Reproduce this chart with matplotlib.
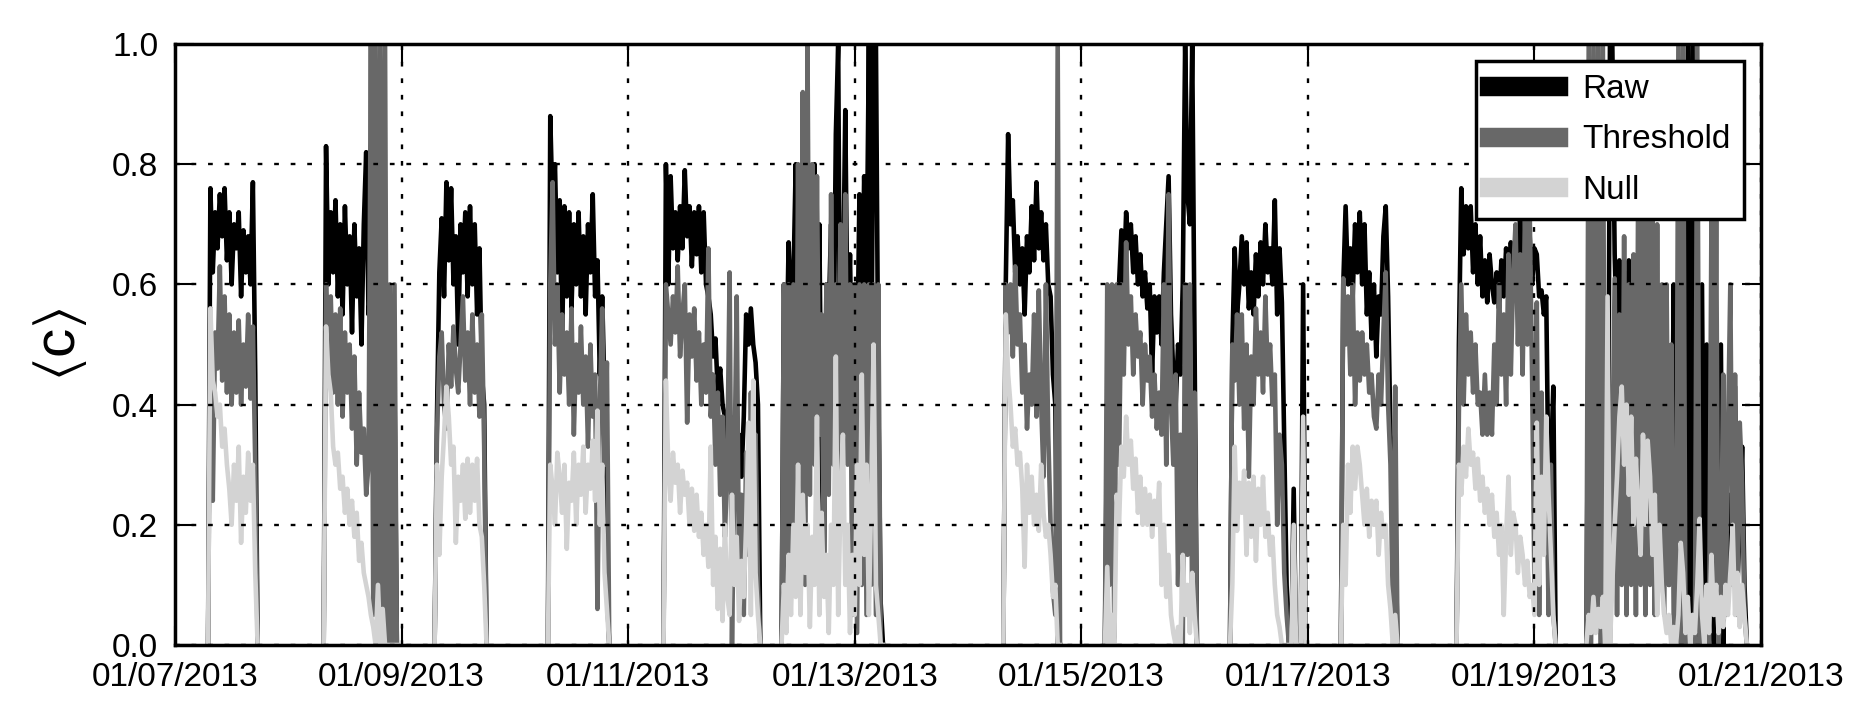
import numpy as np
import matplotlib
matplotlib.use('Agg')
import matplotlib.pyplot as plt
import matplotlib.dates as mdates
from datetime import datetime

plt.rcParams['font.family'] = ['Liberation Sans', 'DejaVu Sans']
plt.rcParams['mathtext.default'] = 'regular'

# samples every 30 min; each burst starts at (day offset from 01/07, hour)
step_h = 0.5

start_jan07 = (0, 7.0)
raw_jan07 = [0.00, 0.76, 0.62, 0.72, 0.66, 0.75, 0.68, 0.76, 0.64, 0.72, 0.60, 0.70, 0.66, 0.72, 0.58, 0.69, 0.62, 0.68, 0.60, 0.77, 0.45, 0.00]
thr_jan07 = [0.00, 0.56, 0.24, 0.52, 0.46, 0.63, 0.44, 0.58, 0.42, 0.55, 0.40, 0.52, 0.42, 0.54, 0.40, 0.50, 0.43, 0.55, 0.41, 0.53, 0.30, 0.00]
null_jan07 = [0.00, 0.56, 0.44, 0.42, 0.38, 0.40, 0.33, 0.36, 0.30, 0.26, 0.20, 0.30, 0.24, 0.33, 0.17, 0.28, 0.22, 0.32, 0.24, 0.30, 0.12, 0.00]

start_jan08 = (1, 7.5)
raw_jan08 = [0.00, 0.83, 0.60, 0.72, 0.62, 0.74, 0.58, 0.70, 0.55, 0.73, 0.60, 0.68, 0.52, 0.70, 0.58, 0.66, 0.50, 0.70, 0.82, 0.55, 0.60, 0.50, 0.60, 0.45, 0.55, 0.40, 0.50, 0.45, 0.43, 0.40, 0.43, 0.00]
thr_jan08 = [0.00, 0.60, 0.45, 0.58, 0.42, 0.55, 0.40, 0.56, 0.38, 0.52, 0.42, 0.50, 0.36, 0.48, 0.30, 0.42, 0.32, 0.36, 0.25, 0.30, 1.00, 0.05, 1.00, 0.03, 1.00, 0.02, 1.00, 0.00, 0.60, 0.00, 0.60, 0.00]
null_jan08 = [0.00, 0.53, 0.45, 0.42, 0.33, 0.30, 0.32, 0.26, 0.28, 0.22, 0.26, 0.20, 0.24, 0.18, 0.22, 0.14, 0.17, 0.12, 0.10, 0.08, 0.05, 0.03, 0.00, 0.10, 0.00, 0.06, 0.00, 0.00, 0.00, 0.00, 0.00, 0.00]

start_jan09 = (2, 7.0)
raw_jan09 = [0.00, 0.38, 0.62, 0.71, 0.58, 0.77, 0.64, 0.76, 0.60, 0.68, 0.50, 0.70, 0.62, 0.72, 0.58, 0.73, 0.60, 0.70, 0.55, 0.66, 0.45, 0.40, 0.00]
thr_jan09 = [0.00, 0.35, 0.48, 0.52, 0.40, 0.36, 0.50, 0.43, 0.53, 0.46, 0.42, 0.50, 0.58, 0.44, 0.52, 0.40, 0.55, 0.42, 0.50, 0.38, 0.55, 0.33, 0.00]
null_jan09 = [0.00, 0.30, 0.15, 0.28, 0.35, 0.43, 0.38, 0.30, 0.33, 0.17, 0.28, 0.24, 0.30, 0.21, 0.31, 0.22, 0.30, 0.24, 0.31, 0.20, 0.18, 0.10, 0.00]

start_jan10 = (3, 7.0)
raw_jan10 = [0.00, 0.88, 0.72, 0.80, 0.62, 0.74, 0.50, 0.73, 0.58, 0.72, 0.56, 0.70, 0.60, 0.72, 0.58, 0.68, 0.55, 0.70, 0.62, 0.75, 0.58, 0.64, 0.45, 0.58, 0.42, 0.09, 0.00]
thr_jan10 = [0.00, 0.60, 0.77, 0.50, 0.60, 0.42, 0.55, 0.45, 0.52, 0.40, 0.56, 0.35, 0.50, 0.42, 0.53, 0.40, 0.48, 0.33, 0.50, 0.38, 0.45, 0.06, 0.40, 0.56, 0.30, 0.47, 0.00]
null_jan10 = [0.00, 0.30, 0.26, 0.20, 0.32, 0.28, 0.22, 0.30, 0.16, 0.27, 0.24, 0.32, 0.20, 0.30, 0.25, 0.33, 0.22, 0.30, 0.26, 0.34, 0.24, 0.39, 0.20, 0.30, 0.12, 0.06, 0.00]

start_jan11 = (4, 7.5)
raw_jan11 = [0.00, 0.80, 0.60, 0.78, 0.66, 0.72, 0.64, 0.73, 0.66, 0.79, 0.68, 0.73, 0.63, 0.72, 0.65, 0.73, 0.62, 0.72, 0.60, 0.58, 0.55, 0.48, 0.51, 0.42, 0.46, 0.40, 0.38, 0.30, 0.35, 0.28, 0.38, 0.30, 0.35, 0.28, 0.38, 0.55, 0.50, 0.56, 0.50, 0.47, 0.40, 0.00]
thr_jan11 = [0.00, 0.60, 0.55, 0.50, 0.58, 0.52, 0.63, 0.48, 0.55, 0.60, 0.37, 0.55, 0.48, 0.56, 0.44, 0.52, 0.40, 0.50, 0.42, 0.66, 0.38, 0.45, 0.30, 0.42, 0.25, 0.38, 0.18, 0.30, 0.62, 0.00, 0.28, 0.58, 0.10, 0.25, 0.05, 0.32, 0.15, 0.42, 0.20, 0.35, 0.10, 0.00]
null_jan11 = [0.00, 0.44, 0.30, 0.24, 0.32, 0.27, 0.30, 0.22, 0.29, 0.25, 0.27, 0.20, 0.26, 0.19, 0.25, 0.18, 0.22, 0.15, 0.20, 0.13, 0.33, 0.10, 0.18, 0.06, 0.16, 0.04, 0.20, 0.08, 0.05, 0.25, 0.10, 0.18, 0.04, 0.14, 0.08, 0.20, 0.37, 0.05, 0.44, 0.12, 0.05, 0.00]

start_jan12 = (5, 8.5)
raw_jan12 = [0.00, 0.60, 0.45, 0.67, 0.55, 0.60, 0.80, 0.55, 0.75, 0.62, 0.78, 0.60, 0.70, 0.55, 0.80, 0.45, 0.70, 0.30, 0.13, 0.60, 0.55, 0.70, 0.45, 0.85, 1.00, 0.30, 0.57, 0.89, 0.50, 0.65, 0.40, 0.60, 0.45, 0.75, 0.50, 0.78, 0.60, 1.00, 0.40, 1.00, 1.00, 0.42, 0.07, 0.00]
thr_jan12 = [0.00, 0.60, 0.05, 0.60, 0.10, 0.60, 0.15, 0.80, 0.20, 0.92, 0.10, 1.00, 0.25, 0.80, 0.30, 0.78, 0.35, 0.55, 0.10, 0.60, 0.25, 0.75, 0.30, 0.60, 0.20, 0.70, 0.35, 0.75, 0.30, 0.60, 0.05, 0.60, 0.02, 0.60, 0.10, 0.60, 0.05, 0.60, 0.10, 0.60, 0.05, 0.60, 0.00, 0.00]
null_jan12 = [0.00, 0.10, 0.02, 0.15, 0.05, 0.20, 0.08, 0.30, 0.05, 0.25, 0.12, 0.20, 0.03, 0.18, 0.10, 0.38, 0.05, 0.22, 0.08, 0.15, 0.02, 0.20, 0.10, 0.48, 0.05, 0.25, 0.35, 0.10, 0.20, 0.02, 0.15, 0.05, 0.30, 0.10, 0.45, 0.15, 0.30, 0.05, 0.25, 0.50, 0.10, 0.05, 0.00, 0.00]

start_jan14 = (7, 7.5)
raw_jan14 = [0.00, 0.60, 0.85, 0.70, 0.74, 0.62, 0.68, 0.60, 0.66, 0.55, 0.68, 0.62, 0.73, 0.64, 0.77, 0.66, 0.72, 0.64, 0.70, 0.60, 0.58, 0.45, 0.40, 0.00, 0.00]
thr_jan14 = [0.00, 0.60, 0.52, 0.60, 0.48, 0.63, 0.50, 0.55, 0.42, 0.50, 0.36, 0.45, 0.40, 0.55, 0.38, 0.59, 0.40, 0.28, 0.60, 0.35, 0.20, 0.09, 0.05, 1.00, 0.00]
null_jan14 = [0.00, 0.55, 0.45, 0.40, 0.33, 0.36, 0.30, 0.32, 0.26, 0.13, 0.30, 0.22, 0.28, 0.20, 0.25, 0.19, 0.30, 0.22, 0.18, 0.20, 0.15, 0.08, 0.10, 0.00, 0.00]

start_jan15 = (8, 5.0)
raw_jan15 = [0.00, 0.40, 0.50, 0.45, 0.55, 0.50, 0.60, 0.69, 0.60, 0.72, 0.66, 0.70, 0.62, 0.68, 0.60, 0.65, 0.58, 0.62, 0.56, 0.60, 0.45, 0.58, 0.52, 0.58, 0.50, 0.62, 0.70, 0.78, 0.55, 0.45, 0.40, 0.50, 0.45, 0.60, 1.00, 0.75, 0.70, 1.00, 0.51, 0.00]
thr_jan15 = [0.00, 0.60, 0.10, 0.60, 0.00, 0.60, 0.30, 0.60, 0.45, 0.67, 0.50, 0.58, 0.45, 0.55, 0.48, 0.52, 0.40, 0.50, 0.44, 0.48, 0.38, 0.45, 0.36, 0.42, 0.35, 0.60, 0.30, 0.75, 0.40, 0.30, 0.45, 0.10, 0.35, 0.00, 0.60, 0.15, 0.60, 0.05, 0.42, 0.00]
null_jan15 = [0.00, 0.13, 0.00, 0.05, 0.00, 0.25, 0.20, 0.33, 0.28, 0.38, 0.30, 0.34, 0.26, 0.31, 0.22, 0.28, 0.20, 0.26, 0.20, 0.25, 0.18, 0.24, 0.20, 0.27, 0.10, 0.20, 0.08, 0.15, 0.05, 0.02, 0.00, 0.03, 0.00, 0.15, 0.05, 0.10, 0.02, 0.12, 0.05, 0.00]

start_jan16 = (9, 7.5)
raw_jan16 = [0.00, 0.50, 0.66, 0.55, 0.60, 0.68, 0.60, 0.67, 0.56, 0.62, 0.55, 0.65, 0.58, 0.67, 0.60, 0.70, 0.62, 0.66, 0.60, 0.74, 0.55, 0.66, 0.57, 0.33, 0.10, 0.00, 0.00, 0.26, 0.00, 0.00, 0.00, 0.60, 0.00]
thr_jan16 = [0.00, 0.50, 0.44, 0.55, 0.40, 0.55, 0.36, 0.50, 0.28, 0.48, 0.40, 0.56, 0.45, 0.52, 0.42, 0.58, 0.45, 0.50, 0.40, 0.45, 0.20, 0.35, 0.30, 0.12, 0.05, 0.00, 0.00, 0.00, 0.00, 0.00, 0.00, 0.00, 0.00]
null_jan16 = [0.00, 0.10, 0.33, 0.19, 0.27, 0.22, 0.29, 0.15, 0.27, 0.18, 0.28, 0.14, 0.26, 0.20, 0.28, 0.18, 0.22, 0.15, 0.18, 0.10, 0.05, 0.03, 0.00, 0.00, 0.00, 0.00, 0.00, 0.20, 0.00, 0.00, 0.00, 0.38, 0.00]

start_jan17 = (10, 7.0)
raw_jan17 = [0.00, 0.60, 0.73, 0.60, 0.66, 0.58, 0.70, 0.62, 0.72, 0.60, 0.70, 0.55, 0.62, 0.51, 0.60, 0.48, 0.58, 0.55, 0.68, 0.73, 0.58, 0.35, 0.30, 0.20, 0.00]
thr_jan17 = [0.00, 0.61, 0.50, 0.58, 0.45, 0.60, 0.40, 0.52, 0.44, 0.52, 0.45, 0.50, 0.42, 0.45, 0.38, 0.36, 0.45, 0.40, 0.52, 0.62, 0.40, 0.30, 0.05, 0.43, 0.00]
null_jan17 = [0.00, 0.20, 0.10, 0.30, 0.22, 0.33, 0.26, 0.33, 0.30, 0.25, 0.20, 0.26, 0.18, 0.24, 0.20, 0.24, 0.15, 0.22, 0.18, 0.20, 0.10, 0.06, 0.00, 0.05, 0.00]

start_jan18 = (11, 7.5)
raw_jan18 = [0.00, 0.50, 0.76, 0.65, 0.73, 0.66, 0.73, 0.62, 0.70, 0.60, 0.68, 0.58, 0.64, 0.57, 0.65, 0.60, 0.57, 0.62, 0.56, 0.64, 0.58, 0.66, 0.60, 0.67, 0.62, 0.67, 0.64, 0.72, 0.65, 0.70, 0.66, 0.68, 0.60, 0.66, 0.65, 0.58, 0.59, 0.55, 0.58, 0.25, 0.30, 0.43, 0.00]
thr_jan18 = [0.00, 0.39, 0.60, 0.40, 0.55, 0.45, 0.52, 0.42, 0.50, 0.40, 0.42, 0.35, 0.45, 0.35, 0.42, 0.35, 0.50, 0.40, 0.60, 0.45, 0.55, 0.40, 0.65, 0.45, 0.62, 0.70, 0.50, 0.65, 0.45, 0.72, 0.50, 0.72, 0.45, 0.10, 0.57, 0.05, 0.42, 0.20, 0.34, 0.05, 0.30, 0.05, 0.00]
null_jan18 = [0.00, 0.30, 0.25, 0.33, 0.28, 0.36, 0.30, 0.32, 0.26, 0.31, 0.24, 0.28, 0.22, 0.26, 0.20, 0.25, 0.18, 0.22, 0.15, 0.20, 0.05, 0.18, 0.28, 0.15, 0.22, 0.20, 0.12, 0.18, 0.15, 0.10, 0.14, 0.08, 0.10, 0.05, 0.37, 0.10, 0.28, 0.15, 0.38, 0.25, 0.15, 0.05, 0.00]

start_jan19 = (12, 11.0)
raw_jan19 = [0.00, 0.60, 0.40, 0.60, 0.50, 0.60, 0.40, 0.55, 0.00, 0.00,
             1.00, 1.00, 0.65, 0.50, 0.64, 0.55, 0.62, 0.43, 0.64, 0.45,
             0.50, 0.35, 0.40, 0.30, 0.35, 0.30, 0.35, 0.25, 0.30, 0.20,
             0.30, 0.20, 0.25, 0.15, 0.20, 0.10, 0.15, 0.60, 0.00, 0.60,
             0.00, 0.60, 0.00, 1.00, 0.00, 1.00, 0.00, 0.60, 0.00, 0.60,
             0.00, 0.50, 0.00, 0.50, 0.00, 0.50, 0.00, 0.50, 0.00, 0.20,
             0.10, 0.25, 0.10, 0.43, 0.10, 0.20, 0.33, 0.10, 0.00]
thr_jan19 = [0.00, 1.00, 0.00, 1.00, 0.05, 1.00, 0.00, 1.00, 0.00, 0.00,
             0.00, 0.30, 0.61, 0.05, 0.55, 0.10, 0.68, 0.05, 0.60, 0.10,
             0.65, 0.05, 0.80, 0.10, 0.72, 0.05, 0.85, 0.10, 0.78, 0.05,
             0.70, 0.10, 0.60, 0.05, 0.60, 0.10, 0.50, 0.05, 0.00, 1.00,
             0.00, 1.00, 0.00, 0.05, 0.00, 0.05, 0.00, 1.00, 0.00, 0.05,
             0.00, 0.05, 0.00, 0.71, 0.05, 0.71, 0.00, 0.10, 0.45, 0.05,
             0.35, 0.60, 0.10, 0.45, 0.05, 0.37, 0.27, 0.05, 0.00]
null_jan19 = [0.00, 0.05, 0.02, 0.08, 0.02, 0.06, 0.03, 0.08, 0.00, 0.58,
              0.00, 0.10, 0.20, 0.28, 0.38, 0.43, 0.30, 0.40, 0.25, 0.38,
              0.20, 0.31, 0.22, 0.15, 0.35, 0.20, 0.34, 0.28, 0.15, 0.25,
              0.05, 0.20, 0.10, 0.05, 0.02, 0.05, 0.00, 0.03, 0.00, 0.05,
              0.17, 0.12, 0.02, 0.08, 0.00, 0.05, 0.02, 0.10, 0.21, 0.05,
              0.00, 0.10, 0.02, 0.15, 0.05, 0.10, 0.02, 0.08, 0.03, 0.10,
              0.05, 0.12, 0.20, 0.05, 0.12, 0.03, 0.10, 0.05, 0.00]

starts = [start_jan07, start_jan08, start_jan09, start_jan10, start_jan11, start_jan12,
          start_jan14, start_jan15, start_jan16, start_jan17, start_jan18, start_jan19]
raw_days = [raw_jan07, raw_jan08, raw_jan09, raw_jan10, raw_jan11, raw_jan12,
            raw_jan14, raw_jan15, raw_jan16, raw_jan17, raw_jan18, raw_jan19]
thr_days = [thr_jan07, thr_jan08, thr_jan09, thr_jan10, thr_jan11, thr_jan12,
            thr_jan14, thr_jan15, thr_jan16, thr_jan17, thr_jan18, thr_jan19]
null_days = [null_jan07, null_jan08, null_jan09, null_jan10, null_jan11, null_jan12,
             null_jan14, null_jan15, null_jan16, null_jan17, null_jan18, null_jan19]

t0 = mdates.date2num(datetime(2013, 1, 7))


def join_bursts(days):
    xs, ys = [], []
    for (day, h0), vals in zip(starts, days):
        t = t0 + day + (h0 + step_h * np.arange(len(vals))) / 24.0
        xs.extend(t)
        ys.extend(vals)
        xs.append(np.nan)
        ys.append(np.nan)
    return np.array(xs), np.array(ys)


fig = plt.figure(figsize=(18.73, 7.23), dpi=100)
ax = fig.add_axes([175 / 1873, 1 - 645 / 723, 1586 / 1873, 601 / 723])

for days, col, lab in [(raw_days, 'black', 'Raw'),
                       (thr_days, '#686868', 'Threshold'),
                       (null_days, '#d3d3d3', 'Null')]:
    x, y = join_bursts(days)
    ax.plot(x, y, color=col, linewidth=3.3, label=lab)

ax.set_xlim(t0, t0 + 14)
ax.set_ylim(0, 1)
ax.set_xticks([t0 + 2 * i for i in range(8)])
ax.xaxis.set_major_formatter(mdates.DateFormatter('%m/%d/%Y'))
ax.set_yticks(np.linspace(0, 1, 6))
ax.yaxis.set_major_formatter(plt.FormatStrFormatter('%.1f'))

ax.set_axisbelow(False)
ax.grid(True, color='k', linestyle=(0, (2, 5)), linewidth=1.7)
ax.tick_params(direction='in', length=14, width=1.5, top=True, right=True,
               labelsize=24)
ax.tick_params(axis='x', pad=12)
ax.tick_params(axis='y', pad=12)
for sp in ax.spines.values():
    sp.set_linewidth(2.5)

ax.set_ylabel(r'$\langle c \rangle$', fontsize=42)
ax.yaxis.set_label_coords(-0.054, 0.5)

leg = ax.legend(loc='upper right', fontsize=24, fancybox=False, framealpha=1,
                borderaxespad=0.5, handlelength=2.05, handletextpad=0.75,
                labelspacing=0.58, borderpad=0.4)
leg.get_frame().set_edgecolor('k')
leg.get_frame().set_linewidth(2.5)
for ln in leg.get_lines():
    ln.set_linewidth(14)

fig.savefig('out.png', dpi=100)
